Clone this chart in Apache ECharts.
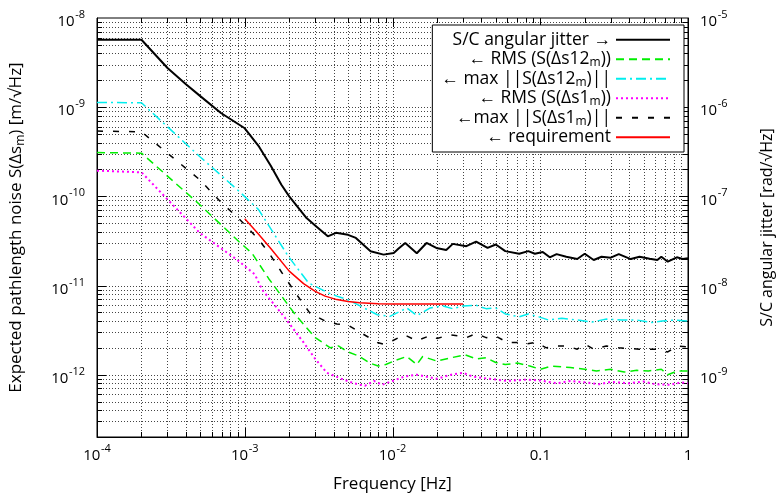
<!DOCTYPE html>
<html><head><meta charset="utf-8">
<script src="https://cdn.jsdelivr.net/npm/echarts@6/dist/echarts.min.js"></script>
<style>html,body{margin:0;padding:0;background:#fff}#c{width:783px;height:501px}</style>
</head><body><div id="c"></div>
<script>
// ---- axis ranges / tick labels ----
const X_MIN = 1e-4, X_MAX = 1;
const Y_MIN = 2e-13, Y_MAX = 1e-8;          // left axis  [m/√Hz]
const Y2_MIN = 2e-10, Y2_MAX = 1e-5;        // right axis [rad/√Hz]
const xDecades = [-4, -3, -2, -1, 0];
const yDecades = [-13, -12, -11, -10, -9, -8];

// ---- S/C angular jitter (right axis, rad/√Hz) ----
const jitterF = [1e-4,2e-4,3e-4,4e-4,5e-4,6.9e-4,1e-3,1.25e-3,1.5e-3,1.77e-3,2e-3,2.62e-3,3.05e-3,3.65e-3,4.14e-3,5e-3,5.65e-3,7.1e-3,8.7e-3,1.02e-2,1.1e-2,1.22e-2,1.46e-2,1.7e-2,1.98e-2,2.31e-2,2.56e-2,3.16e-2,3.68e-2,4.4e-2,5e-2,5.8e-2,7.2e-2,8.3e-2,9.2e-2,0.104,0.116,0.129,0.15,0.178,0.2,0.23,0.26,0.3,0.34,0.41,0.47,0.55,0.62,0.66,0.73,0.84,0.92,1.0];
const jitterV = [5.7e-6,5.7e-6,2.75e-6,1.81e-6,1.33e-6,8.6e-7,5.8e-7,3.6e-7,2.2e-7,1.35e-7,1.0e-7,5.7e-8,4.6e-8,3.56e-8,3.9e-8,3.7e-8,3.42e-8,2.42e-8,2.22e-8,2.32e-8,2.6e-8,3.0e-8,2.3e-8,3.0e-8,2.64e-8,2.5e-8,2.93e-8,2.76e-8,3.1e-8,2.64e-8,2.88e-8,2.43e-8,2.27e-8,2.43e-8,2.27e-8,2.38e-8,2.07e-8,2.25e-8,2.1e-8,1.98e-8,2.27e-8,1.93e-8,2.1e-8,2.05e-8,2.25e-8,1.98e-8,2.1e-8,2.0e-8,1.93e-8,2.1e-8,1.85e-8,2.07e-8,1.98e-8,2.02e-8];

// ---- RMS (S(Δs12m)) ----
const rms12F = [1e-4,2e-4,4.95e-4,9.15e-4,1.12e-3,1.45e-3,2.2e-3,3e-3,3.8e-3,4.3e-3,5e-3,6e-3,7e-3,8e-3,9e-3,1.05e-2,1.25e-2,1.46e-2,1.6e-2,2e-2,2.5e-2,3.1e-2,3.7e-2,4.3e-2,5e-2,5.8e-2,7e-2,8.5e-2,0.1,0.12,0.16,0.2,0.24,0.3,0.37,0.45,0.54,0.66,0.73,0.85,1.0];
const rms12V = [3.1e-10,3.05e-10,8.1e-11,3.1e-11,2.3e-11,1.2e-11,4.7e-12,2.6e-12,2.0e-12,2.1e-12,1.8e-12,1.6e-12,1.35e-12,1.25e-12,1.3e-12,1.45e-12,1.6e-12,1.3e-12,1.6e-12,1.42e-12,1.55e-12,1.67e-12,1.5e-12,1.55e-12,1.37e-12,1.3e-12,1.35e-12,1.25e-12,1.15e-12,1.25e-12,1.2e-12,1.15e-12,1.1e-12,1.15e-12,1.07e-12,1.12e-12,1.1e-12,1.15e-12,1.0e-12,1.1e-12,1.1e-12];

// ---- max ||S(Δs12m)|| ----
const max12F = [1e-4,2e-4,4.95e-4,9.15e-4,1.24e-3,1.97e-3,2.7e-3,3.66e-3,4.2e-3,4.95e-3,5.8e-3,7.9e-3,9.6e-3,1.2e-2,1.25e-2,1.46e-2,1.8e-2,2.2e-2,2.55e-2,3.0e-2,3.68e-2,4.3e-2,5.0e-2,5.8e-2,7.2e-2,8.3e-2,9.8e-2,0.114,0.14,0.178,0.224,0.282,0.355,0.45,0.57,0.67,0.82,1.0];
const max12V = [1.13e-9,1.12e-9,2.8e-10,1.14e-10,7.1e-11,2.13e-11,1.07e-11,8.3e-12,7.6e-12,6.95e-12,6.1e-12,4.7e-12,4.5e-12,5.4e-12,5.6e-12,4.6e-12,5.6e-12,5.9e-12,5.5e-12,5.9e-12,6.0e-12,5.5e-12,5.6e-12,4.8e-12,4.45e-12,4.8e-12,4.45e-12,4.1e-12,4.3e-12,4.1e-12,3.9e-12,4.2e-12,4.1e-12,4.1e-12,3.85e-12,4.0e-12,4.1e-12,4.0e-12];

// ---- RMS (S(Δs1m)) ----
const rms1F = [1e-4,2e-4,4.95e-4,9.15e-4,1.17e-3,1.31e-3,1.87e-3,2.5e-3,3e-3,3.6e-3,4.5e-3,5.5e-3,6.5e-3,7.5e-3,8.5e-3,1e-2,1.2e-2,1.46e-2,2e-2,2.5e-2,3e-2,3.5e-2,4.5e-2,6e-2,8e-2,0.1,0.13,0.16,0.2,0.25,0.3,0.4,0.5,0.6,0.75,0.9,1.0];
const rms1V = [1.94e-10,1.86e-10,3.9e-11,1.87e-11,1.33e-11,9e-12,4.35e-12,2.3e-12,1.5e-12,1.05e-12,9e-13,8e-13,7.5e-13,8.5e-13,7.7e-13,8.5e-13,9.5e-13,1.0e-12,9e-13,1.0e-12,1.05e-12,9.5e-13,9e-13,8.5e-13,8.8e-13,8.6e-13,8e-13,8.5e-13,8.2e-13,7.8e-13,8.3e-13,8.0e-13,8.4e-13,7.8e-13,7.7e-13,8.2e-13,8.0e-13];

// ---- max ||S(Δs1m)|| ----
const max1F = [1e-4,2e-4,4.95e-4,6.9e-4,9.15e-4,1.24e-3,1.49e-3,1.78e-3,2.2e-3,2.76e-3,3.5e-3,4.2e-3,5e-3,5.8e-3,7.9e-3,8.7e-3,1.0e-2,1.2e-2,1.46e-2,1.8e-2,2e-2,2.45e-2,2.9e-2,3.16e-2,3.68e-2,4.3e-2,5e-2,6e-2,7e-2,8e-2,9.3e-2,0.11,0.13,0.15,0.178,0.2,0.23,0.28,0.34,0.47,0.6,0.73,0.84,1.0];
const max1V = [5.4e-10,5.3e-10,1.54e-10,8.6e-11,5.6e-11,3.3e-11,2.2e-11,1.4e-11,8.3e-12,4.9e-12,4.0e-12,3.7e-12,3.6e-12,3.1e-12,2.3e-12,2.2e-12,2.4e-12,2.8e-12,2.4e-12,2.75e-12,2.55e-12,2.8e-12,2.7e-12,2.6e-12,2.9e-12,2.6e-12,2.7e-12,2.3e-12,2.3e-12,2.2e-12,2.3e-12,2.0e-12,2.1e-12,2.1e-12,1.93e-12,2.2e-12,1.93e-12,2.1e-12,2.0e-12,1.93e-12,1.93e-12,1.8e-12,2.1e-12,2.05e-12];

// ---- requirement ----
const reqF = [1e-3,1.2e-3,1.5e-3,2e-3,2.5e-3,3e-3,3.5e-3,4.2e-3,5e-3,6e-3,8e-3,1e-2,2e-2,3e-2];
const reqV = [5.6e-11,4.0e-11,2.6e-11,1.45e-11,1.05e-11,8.6e-12,7.6e-12,6.95e-12,6.6e-12,6.4e-12,6.25e-12,6.2e-12,6.2e-12,6.2e-12];

const seriesNames = ['S/C angular jitter →','← RMS (S(Δs12m))','← max ||S(Δs12m)||','← RMS (S(Δs1m))','←max ||S(Δs1m)||','← requirement'];

// ---------------------------------------------------------------
const FONT = 'Open Sans';
const zip = (f, v) => f.map((x, i) => [x, v[i]]);
const isDecade = v => Math.abs(Math.log10(v) - Math.round(Math.log10(v))) < 1e-6;

// grid lines (1..9 x 10^n) built from decades
const gridKind = [], gridVal = [];
xDecades.forEach(d => { for (let m = 1; m <= 9; m++) { const v = m * Math.pow(10, d); if (v >= X_MIN*0.999 && v <= X_MAX*1.001) { gridKind.push('x'); gridVal.push(v); } } });
yDecades.forEach(d => { for (let m = 1; m <= 9; m++) { const v = m * Math.pow(10, d); if (v >= Y_MIN*0.999 && v <= Y_MAX*1.001) { gridKind.push('y'); gridVal.push(v); } } });

function supLabel(v) {
  if (!isDecade(v)) return '';
  const e = Math.round(Math.log10(v));
  if (e === 0) return '{b|1}';
  if (e === -1) return '{b|0.1}';
  return '{b|10}{s|' + e + '}';
}
const labelRich = {
  b: { fontSize: 15, fontFamily: FONT, color: '#000', lineHeight: 24, verticalAlign: 'top', padding: [8.5, 0, 0, 0] },
  s: { fontSize: 11, fontFamily: FONT, color: '#000', lineHeight: 24, verticalAlign: 'top', padding: [3.5, 0, 0, 0.5] }
};

const chart = echarts.init(document.getElementById('c'), null, { renderer: 'canvas' });
const lineSer = (name, f, v, color, width, type, yIdx, z) => ({
  name, type: 'line', data: zip(f, v), yAxisIndex: yIdx, showSymbol: false, symbol: 'none',
  lineStyle: { color, width, type }, itemStyle: { color }, z: z || 3, animation: false, silent: true
});

chart.setOption({
  animation: false,
  backgroundColor: '#fff',
  grid: { left: 96, right: 88, top: 18, bottom: 64, show: true, borderColor: '#000', borderWidth: 1, containLabel: false },
  xAxis: {
    type: 'log', logBase: 10, min: X_MIN, max: X_MAX,
    name: 'Frequency [Hz]', nameLocation: 'middle', nameGap: 39,
    nameTextStyle: { fontFamily: FONT, fontSize: 17, color: '#000' },
    axisLine: { show: true, lineStyle: { color: '#000' } }, axisTick: { show: false }, splitLine: { show: false },
    axisLabel: { margin: 3, formatter: v => supLabel(v), rich: labelRich, showMinLabel: true, showMaxLabel: true }
  },
  yAxis: [{
    type: 'log', logBase: 10, min: Y_MIN, max: Y_MAX, position: 'left',
    name: '{n|Expected pathlength noise S(Δs}{ns|m}{n|) [m/√Hz]}', nameLocation: 'middle', nameGap: 70, nameRotate: 90,
    nameTextStyle: { rich: { n: { fontFamily: FONT, fontSize: 17, color: '#000', lineHeight: 21 }, ns: { fontFamily: FONT, fontSize: 12, color: '#000', lineHeight: 12, verticalAlign: 'bottom' } } },
    axisLine: { show: true, lineStyle: { color: '#000' } }, axisTick: { show: false }, splitLine: { show: false },
    axisLabel: { margin: 12, formatter: v => supLabel(v), rich: labelRich, showMinLabel: true, showMaxLabel: true }
  }, {
    type: 'log', logBase: 10, min: Y2_MIN, max: Y2_MAX, position: 'right',
    name: 'S/C angular jitter [rad/√Hz]', nameLocation: 'middle', nameGap: 71, nameRotate: 90,
    nameTextStyle: { fontFamily: FONT, fontSize: 16, color: '#000' },
    axisLine: { show: true, lineStyle: { color: '#000' } }, axisTick: { show: false }, splitLine: { show: false },
    axisLabel: { margin: 12, formatter: v => supLabel(v), rich: labelRich, showMinLabel: true, showMaxLabel: true }
  }],
  legend: {
    data: seriesNames, orient: 'vertical', right: 99, top: 25, align: 'right',
    backgroundColor: '#fff', borderColor: '#000', borderWidth: 1, borderRadius: 0,
    padding: [5, 13, 5, 9], itemWidth: 54, itemHeight: 14, itemGap: 0,
    selectedMode: false,
    itemStyle: { opacity: 0 },
    textStyle: { fontFamily: FONT, fontSize: 17.5, color: '#000', lineHeight: 19.5,
      rich: { sub: { fontFamily: FONT, fontSize: 12, color: '#000', lineHeight: 12, verticalAlign: 'bottom' } } },
    formatter: n => n.replace(/(\d)m/, '$1{sub|m}')
  },
  series: [
    {
      type: 'custom', name: 'grid', silent: true, z: 1, clip: false,
      data: gridVal.map((v, i) => gridKind[i] === 'x' ? [v, 1e-10] : [1e-2, v]),
      renderItem: function (params, api) {
        const k = gridKind[params.dataIndex], v = gridVal[params.dataIndex];
        const major = isDecade(v), tl = major ? 9 : 5;
        const ch = [];
        const dot = { stroke: '#444', lineWidth: 1, lineDash: [1, 2] };
        const sol = { stroke: '#000', lineWidth: 1 };
        if (k === 'x') {
          const a = api.coord([v, Y_MIN]), b = api.coord([v, Y_MAX]);
          const x = Math.round(a[0]) + 0.5;
          if (v > X_MIN * 1.001 && v < X_MAX * 0.999) {
            ch.push({ type: 'line', shape: { x1: x, y1: a[1], x2: x, y2: b[1] }, style: dot });
            ch.push({ type: 'line', shape: { x1: x, y1: a[1], x2: x, y2: a[1] - tl }, style: sol });
            ch.push({ type: 'line', shape: { x1: x, y1: b[1], x2: x, y2: b[1] + tl }, style: sol });
          }
        } else {
          const a = api.coord([X_MIN, v]), b = api.coord([X_MAX, v]);
          const y = Math.round(a[1]) + 0.5;
          if (v > Y_MIN * 1.001 && v < Y_MAX * 0.999) {
            ch.push({ type: 'line', shape: { x1: a[0], y1: y, x2: b[0], y2: y }, style: dot });
            ch.push({ type: 'line', shape: { x1: a[0], y1: y, x2: a[0] + tl, y2: y }, style: sol });
            ch.push({ type: 'line', shape: { x1: b[0], y1: y, x2: b[0] - tl, y2: y }, style: sol });
          }
        }
        return { type: 'group', children: ch };
      }
    },
    lineSer(seriesNames[0], jitterF, jitterV, '#000000', 2, 'solid', 1, 6),
    lineSer(seriesNames[1], rms12F, rms12V, '#00ee00', 1.5, [8, 5], 0),
    lineSer(seriesNames[2], max12F, max12V, '#00eeee', 1.5, [10, 4, 2, 4], 0),
    lineSer(seriesNames[3], rms1F, rms1V, '#ff00ff', 2, [2, 3], 0),
    lineSer(seriesNames[4], max1F, max1V, '#000000', 1.5, [6, 10], 0),
    lineSer(seriesNames[5], reqF, reqV, '#ff0000', 1.5, 'solid', 0, 5)
  ]
});
</script></body></html>
